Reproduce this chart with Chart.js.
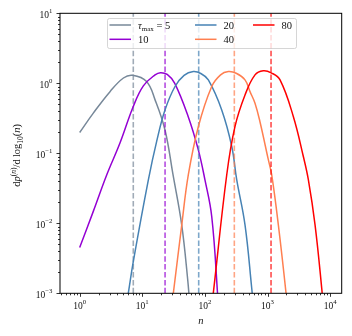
<!DOCTYPE html>
<html>
<head>
<meta charset="utf-8">
<script src="https://cdn.jsdelivr.net/npm/chart.js@4.4.0/dist/chart.umd.min.js"></script>
<style>
html, body { margin: 0; padding: 0; background: #fff; }
</style>
</head>
<body>
<canvas id="grafico" width="352" height="336"></canvas>
<script>
// valores
const tauMax = [5, 10, 20, 40, 80];
const cores = ['119,136,153', '148,0,211', '70,130,180', '255,127,80', '255,0,0'];
const nMedio = [7.18, 23.1, 79.6, 295, 1138];

const n5 = [1, 1.65, 3.05, 5.0, 7.0, 11.7, 16, 23, 31, 42.6, 53, 58];
const p5 = [0.198, 0.375, 0.76, 1.19, 1.30, 1.06, 0.58, 0.217, 0.049, 0.0095, 0.0016, 0.0006];

const n10 = [1, 1.65, 2.7, 4.4, 7.2, 10.4, 16, 19.5, 25, 33, 54, 78.5, 100, 128.5, 159, 166];
const p10 = [0.0045, 0.0148, 0.049, 0.14, 0.47, 0.92, 1.32, 1.42, 1.34, 1.0, 0.336, 0.112, 0.042, 0.0125, 0.001, 0.0004];

const n20 = [5.0, 5.97, 7.18, 12.5, 17, 23.1, 33.3, 46.5, 65.3, 86, 113.5, 185, 268, 322, 437, 560, 600];
const p20 = [0.0004, 0.001, 0.00284, 0.0418, 0.149, 0.418, 0.90, 1.30, 1.47, 1.38, 1.12, 0.42, 0.126, 0.042, 0.0095, 0.00117, 0.0006];

const n40 = [28.2, 31.3, 42.7, 54.3, 78.5, 128.5, 178, 237, 316, 437, 525, 631, 759, 1030, 1167, 1489, 1977, 2138];
const p40 = [0.00047, 0.001, 0.0095, 0.049, 0.24, 0.90, 1.32, 1.47, 1.39, 1.12, 0.76, 0.52, 0.28, 0.081, 0.049, 0.0095, 0.001, 0.00045];

const n80 = [120, 136, 223, 302, 437, 631, 857, 1148, 1585, 2582, 3733, 4487, 5741, 7345, 7943];
const p80 = [0.0004, 0.001, 0.049, 0.24, 0.68, 1.32, 1.51, 1.41, 1.12, 0.336, 0.09, 0.042, 0.0095, 0.00117, 0.0005];

const xLim = [0.485, 15300];
const yLim = [1e-3, 10];
const serif = "'Liberation Serif', 'DejaVu Serif', serif";
const corTexto = '#111';

const todosN = [n5, n10, n20, n40, n80];
const todosP = [p5, p10, p20, p40, p80];

function ehPotencia(v) {
    var l = Math.log10(v);
    return Math.abs(l - Math.round(l)) < 1e-9;
}

function ticksLog(min, max) {
    var lista = [];
    for (var e = Math.floor(Math.log10(min)); e <= Math.ceil(Math.log10(max)); e++) {
        for (var s = 1; s <= 9; s++) {
            var v = s * Math.pow(10, e);
            if (v >= min * 0.9999 && v <= max * 1.0001) lista.push({value: v});
        }
    }
    return lista;
}

// escreve uma sequencia de pedacos [texto, fonte, deslocamento vertical]
function larguraPedacos(ctx, pedacos) {
    var w = 0;
    pedacos.forEach(p => { ctx.font = p[1]; w += ctx.measureText(p[0]).width; });
    return w;
}
function escrevePedacos(ctx, pedacos, x, y) {
    pedacos.forEach(p => {
        ctx.font = p[1];
        ctx.fillText(p[0], x, y + p[2]);
        x += ctx.measureText(p[0]).width;
    });
}

function rotuloPot(v) {
    var e = String(Math.round(Math.log10(v))).replace('-', '\u2212');
    return [['10', '9.5px ' + serif, 0], [e, '6.8px ' + serif, -5]];
}

var datasets = [];
for (var i = 0; i < tauMax.length; i++) {
    datasets.push({
        data: todosN[i].map((n, k) => ({x: n, y: todosP[i][k]})),
        borderColor: 'rgb(' + cores[i] + ')',
        borderWidth: 1.5,
        pointRadius: 0,
        tension: 0.4,
        order: 20 - 2 * i
    });
    datasets.push({
        data: [{x: nMedio[i], y: yLim[0]}, {x: nMedio[i], y: yLim[1]}],
        borderColor: 'rgba(' + cores[i] + ',0.7)',
        borderWidth: 1.6,
        borderDash: [5.5, 2.4],
        pointRadius: 0,
        order: 19 - 2 * i
    });
}

// moldura, marcas e rotulos dos eixos, legenda
const extras = {
    id: 'extras',
    afterDatasetsDraw(chart) {
        var ctx = chart.ctx, a = chart.chartArea;
        var sx = chart.scales.x, sy = chart.scales.y;
        ctx.save();
        ctx.strokeStyle = '#000';
        ctx.lineWidth = 0.8;
        ctx.beginPath();
        sx.ticks.forEach(t => {
            var px = Math.round(sx.getPixelForValue(t.value)) + 0.5;
            var len = ehPotencia(t.value) ? 3.5 : 2;
            ctx.moveTo(px, a.bottom);
            ctx.lineTo(px, a.bottom + len);
        });
        sy.ticks.forEach(t => {
            var py = Math.round(sy.getPixelForValue(t.value)) + 0.5;
            var len = ehPotencia(t.value) ? 3.5 : 2;
            ctx.moveTo(a.left, py);
            ctx.lineTo(a.left - len, py);
        });
        ctx.stroke();
        ctx.lineWidth = 1;
        ctx.strokeRect(a.left, a.top, a.right - a.left, a.bottom - a.top);

        ctx.fillStyle = corTexto;
        ctx.textBaseline = 'alphabetic';
        ctx.textAlign = 'left';
        sx.ticks.filter(t => ehPotencia(t.value)).forEach(t => {
            var px = sx.getPixelForValue(t.value);
            var ped = rotuloPot(t.value);
            var w = larguraPedacos(ctx, ped);
            escrevePedacos(ctx, ped, px - w / 2, a.bottom + 16);
        });
        sy.ticks.filter(t => ehPotencia(t.value)).forEach(t => {
            var py = sy.getPixelForValue(t.value);
            var ped = rotuloPot(t.value);
            var w = larguraPedacos(ctx, ped);
            escrevePedacos(ctx, ped, a.left - 7.5 - w, py + 4.8);
        });

        // titulos dos eixos
        var it = 'italic 10.5px ' + serif, rm = '10.5px ' + serif;
        var itp = 'italic 7.5px ' + serif, rmp = '7.5px ' + serif;
        var tx = [['n', it, 0]];
        escrevePedacos(ctx, tx, (a.left + a.right) / 2 - larguraPedacos(ctx, tx) / 2, 323.5);
        var ty = [['d', rm, 0], ['p', it, 0], ['(', rmp, -4.5], ['n', itp, -4.5], [')', rmp, -4.5],
                  ['/', rm, 0], ['d', rm, 0], ['\u2009log', rm, 0], ['10', rmp, 2.5],
                  ['(', rm, 0], ['n', it, 0], [')', rm, 0]];
        ctx.save();
        ctx.translate(20, (a.top + a.bottom) / 2 + 2);
        ctx.rotate(-Math.PI / 2);
        escrevePedacos(ctx, ty, -larguraPedacos(ctx, ty) / 2, 0);
        ctx.restore();

        // legenda
        var lx = 107, ly = 18, lw = 189, lh = 30;
        ctx.fillStyle = 'rgba(255,255,255,0.8)';
        ctx.strokeStyle = 'rgba(204,204,204,0.8)';
        ctx.lineWidth = 1;
        ctx.beginPath();
        ctx.roundRect(lx + 0.5, ly + 0.5, lw, lh, 2);
        ctx.fill();
        ctx.stroke();

        var colX = [109.5, 195, 253];
        var linY = [25, 39.3];
        for (var i = 0; i < tauMax.length; i++) {
            var c = Math.floor(i / 2), r = i % 2;
            var x0 = colX[c], y0 = linY[r];
            ctx.strokeStyle = 'rgb(' + cores[i] + ')';
            ctx.lineWidth = 1.5;
            ctx.beginPath();
            ctx.moveTo(x0, y0);
            ctx.lineTo(x0 + 21.5, y0);
            ctx.stroke();
            ctx.fillStyle = corTexto;
            var ped = i === 0
                ? [['\u03c4', it, 0], ['max', '7px ' + serif, 1.5], [' = ' + tauMax[i], rm, 0]]
                : [[String(tauMax[i]), rm, 0]];
            escrevePedacos(ctx, ped, x0 + 28.5, y0 + 4);
        }
        ctx.restore();
    }
};

new Chart(document.getElementById('grafico'), {
    type: 'line',
    data: {datasets: datasets},
    options: {
        responsive: false,
        animation: false,
        devicePixelRatio: 1,
        elements: {line: {capBezierPoints: false}},
        layout: {padding: {left: 0, right: 10.3, top: 13.3, bottom: 0}},
        plugins: {legend: {display: false}, tooltip: {enabled: false}},
        scales: {
            x: {
                type: 'logarithmic',
                min: xLim[0],
                max: xLim[1],
                afterBuildTicks: s => { s.ticks = ticksLog(xLim[0], xLim[1]); },
                afterFit: s => { s.height = 42.7; },
                grid: {display: false},
                border: {display: false},
                ticks: {display: false, autoSkip: false}
            },
            y: {
                type: 'logarithmic',
                min: yLim[0],
                max: yLim[1],
                afterBuildTicks: s => { s.ticks = ticksLog(yLim[0], yLim[1]); },
                afterFit: s => { s.width = 60; },
                grid: {display: false},
                border: {display: false},
                ticks: {display: false, autoSkip: false}
            }
        }
    },
    plugins: [extras]
});
</script>
</body>
</html>
